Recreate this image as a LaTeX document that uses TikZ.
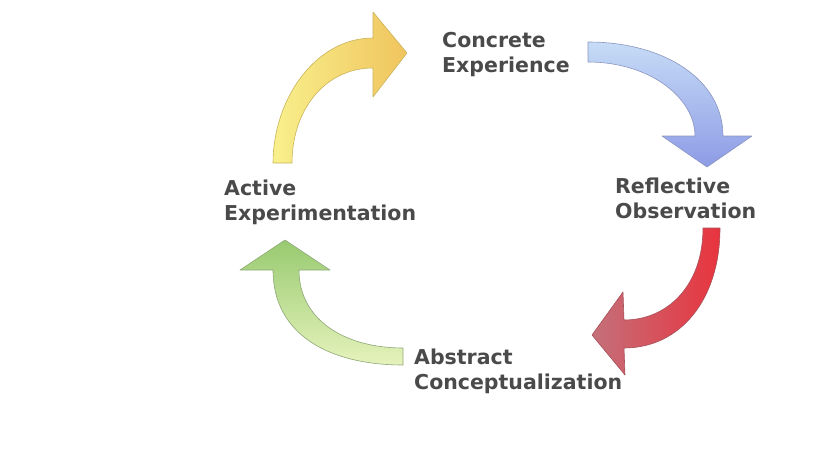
\documentclass[tikz,border=0pt]{standalone}
\usepackage{fontspec}
\newfontfamily\zyklusfont{DejaVu Sans}
\usepackage{tikz}
\usetikzlibrary{positioning}
\definecolor{textgrau}{HTML}{4A4A4A}
\definecolor{gelbhell}{HTML}{F8F08C}
\definecolor{gelbdunkel}{HTML}{F0C45E}
\definecolor{gelbrand}{HTML}{C9B45C}
\definecolor{blauhell}{HTML}{C6DCF6}
\definecolor{blaudunkel}{HTML}{8E9BE6}
\definecolor{blaurand}{HTML}{8A96C0}
\definecolor{rothell}{HTML}{E8343E}
\definecolor{rotdunkel}{HTML}{C4707A}
\definecolor{rotrand}{HTML}{A8505A}
\definecolor{gruenhell}{HTML}{E6F3BC}
\definecolor{gruendunkel}{HTML}{98CA70}
\definecolor{gruenrand}{HTML}{8FA878}
\tikzset{
  phase/.style={anchor=north west, inner sep=0pt, align=left, text=textgrau,
    font=\fontsize{20.5}{25}\selectfont\zyklusfont\bfseries},
  pfeil/.style={draw=#1, line width=0.6pt, line join=round}
}

\begin{document}
\begin{tikzpicture}[x=1pt,y=-1pt]
\useasboundingbox (0,0) rectangle (830,450);
%Die vier Phasen
\node[phase] (ce) at (442,32) {Concrete\\Experience};
\node[phase] (ro) at (615,178) {Reflective\\Observation};
\node[phase] (ae) at (224,180) {Active\\Experimentation};
\node[phase] (ac) at (414,349) {Abstract\\Conceptualization};
%Pfeile: Schaft wird zur Spitze hin breiter
\draw[pfeil=gelbrand, left color=gelbhell, right color=gelbdunkel]
  (273,163) .. controls (273,100) and (315,38) .. (373,38) -- (373,12) -- (407,53)
  -- (373,97) -- (373,68) .. controls (325,68) and (292,110) .. (292,163) -- cycle;
\draw[pfeil=blaurand, top color=blauhell, bottom color=blaudunkel]
  (588,42) .. controls (665,42) and (723,80) .. (723,136) -- (752,136) -- (707,167)
  -- (662,136) -- (695,136) .. controls (695,98) and (650,62) .. (588,62) -- cycle;
\draw[pfeil=rotrand, right color=rothell, left color=rotdunkel]
  (720,228) .. controls (720,300) and (680,348) .. (624,348) -- (625,375) -- (592,335)
  -- (623,292) -- (624,320) .. controls (668,320) and (703,285) .. (703,228) -- cycle;
\draw[pfeil=gruenrand, top color=gruendunkel, bottom color=gruenhell]
  (403,365) .. controls (330,365) and (273,335) .. (273,270) -- (240,270) -- (285,240)
  -- (330,270) -- (299,270) .. controls (299,320) and (345,348) .. (403,348) -- cycle;
\end{tikzpicture}
\end{document}
